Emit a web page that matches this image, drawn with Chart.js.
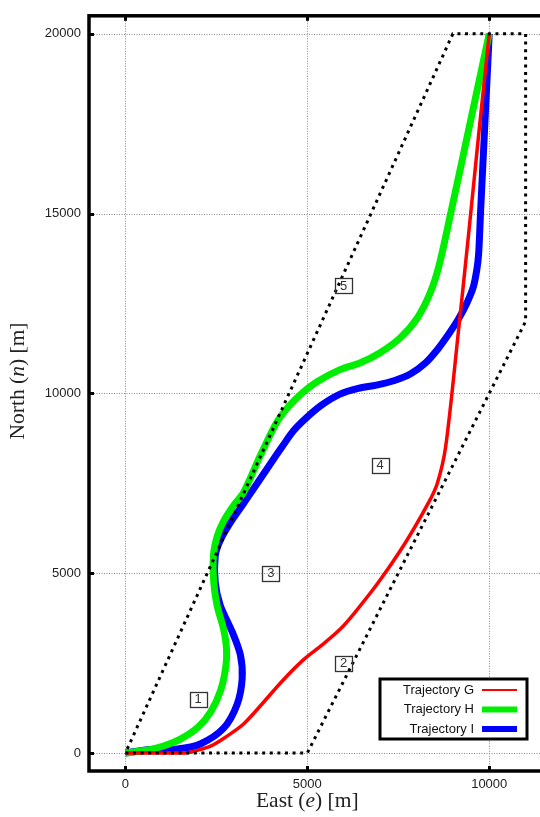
<!DOCTYPE html>
<html>
<head>
<meta charset="utf-8">
<script src="https://cdn.jsdelivr.net/npm/chart.js@4.4.1/dist/chart.umd.min.js"></script>
<style>
  html, body { margin: 0; padding: 0; background: #fff; overflow: hidden; }
  #wrap { width: 540px; height: 817px; overflow: hidden; }
</style>
</head>
<body>
<div id="wrap"><canvas id="traj" width="580" height="817"></canvas></div>
<script>
/* ── DATA ─────────────────────────────────────────────── */
const xTicks = [0, 5000, 10000];
const yTicks = [0, 5000, 10000, 15000, 20000];

// outer dotted boundary of the allowed region
const boundaryEast  = [0, 5000, 11000, 11000, 9000, 0];
const boundaryNorth = [0, 0, 12000, 20000, 20000, 0];

// numbered sub-regions
const areaIds   = ['1', '2', '3', '4', '5'];
const areaEast  = [2000, 6000, 4000, 7000, 6000];
const areaNorth = [1500, 2500, 5000, 8000, 13000];

// Trajectory G (red)
const gEast  = [0, 1000, 1700, 2000, 2340, 2750, 3240, 3700, 4300, 4890, 5400, 5900, 6300, 6950, 7690, 8320, 8570, 8800, 9140, 9430, 9710, 10000];
const gNorth = [0, 0, 10, 80, 190, 440, 800, 1300, 1990, 2590, 3000, 3440, 3900, 4740, 5840, 6940, 7490, 8500, 11600, 14400, 17200, 20000];

// Trajectory H (green)
const hEast  = [0, 700, 1000, 1500, 2000, 2350, 2620, 2760, 2780, 2700, 2520, 2430, 2420, 2530, 2700, 2950, 3250, 3700, 4150, 4500, 4850, 5280, 5900, 6460, 7000, 7550, 8020, 8380, 8620, 8940, 9470, 10000];
const hNorth = [0, 100, 180, 380, 720, 1150, 1750, 2400, 2900, 3440, 4100, 4740, 5500, 6050, 6450, 6850, 7250, 8250, 9180, 9650, 10000, 10330, 10660, 10850, 11130, 11540, 12090, 12800, 13550, 15000, 17500, 20000];

// Trajectory I (blue)
const iEast  = [0, 690, 1430, 2060, 2700, 3070, 3210, 3160, 2940, 2610, 2470, 2470, 2600, 2850, 3200, 3570, 3950, 4330, 4620, 4950, 5400, 5900, 6400, 6900, 7400, 7830, 8250, 8600, 8920, 9150, 9380, 9560, 9660, 9710, 9760, 9880, 10000];
const iNorth = [0, 100, 110, 250, 690, 1350, 2070, 2730, 3360, 4100, 4740, 5480, 5900, 6350, 6870, 7420, 7990, 8550, 8960, 9300, 9680, 9980, 10140, 10230, 10360, 10540, 10850, 11250, 11700, 12060, 12500, 12950, 13450, 13900, 15000, 17500, 20000];

const pts = (xs, ys) => xs.map((x, k) => ({ x, y: ys[k] }));

/* ── DECORATION PLUGIN ───────────────────────────────── */
const frame = {
  id: 'frame',
  beforeDatasetsDraw(chart) {
    const { ctx, chartArea: a, scales: { x, y } } = chart;
    ctx.save();
    ctx.strokeStyle = '#8a8a8a';
    ctx.lineWidth = 1;
    ctx.setLineDash([1, 1.5]);
    xTicks.forEach(v => {
      const px = Math.round(x.getPixelForValue(v)) + 0.5;
      ctx.beginPath(); ctx.moveTo(px, a.top); ctx.lineTo(px, a.bottom); ctx.stroke();
    });
    yTicks.forEach(v => {
      const py = Math.round(y.getPixelForValue(v)) + 0.5;
      ctx.beginPath(); ctx.moveTo(a.left, py); ctx.lineTo(a.right, py); ctx.stroke();
    });
    ctx.restore();
  },
  afterDatasetsDraw(chart) {
    const { ctx, chartArea: a, scales: { x, y } } = chart;
    ctx.save();

    // region number boxes
    ctx.font = '13px "Liberation Sans", Arial, sans-serif';
    ctx.textAlign = 'center';
    ctx.textBaseline = 'middle';
    ctx.lineWidth = 1.3;
    ctx.strokeStyle = '#333';
    ctx.fillStyle = '#333';
    areaIds.forEach((t, k) => {
      const px = x.getPixelForValue(areaEast[k]);
      const py = y.getPixelForValue(areaNorth[k]);
      ctx.strokeRect(Math.round(px - 8.5) + 0.5, Math.round(py - 7.5) + 0.5, 17, 15);
      ctx.fillText(t, px, py + 0.5);
    });

    // thick frame
    ctx.strokeStyle = '#000';
    ctx.lineWidth = 3.5;
    ctx.strokeRect(a.left, a.top, a.right - a.left, a.bottom - a.top);

    // tick squares on the borders
    ctx.fillStyle = '#000';
    xTicks.forEach(v => {
      const px = Math.round(x.getPixelForValue(v));
      ctx.fillRect(px - 1, a.top, 3, 5);
      ctx.fillRect(px - 1, a.bottom - 5, 3, 5);
    });
    yTicks.forEach(v => {
      const py = Math.round(y.getPixelForValue(v));
      ctx.fillRect(a.left, py - 1, 5, 3);
      ctx.fillRect(a.right - 5, py - 1, 5, 3);
    });

    // legend
    const lx = 380, ly = 679, lw = 147, lh = 60;
    ctx.fillStyle = '#fff';
    ctx.fillRect(lx, ly, lw, lh);
    ctx.lineWidth = 3;
    ctx.strokeStyle = '#000';
    ctx.strokeRect(lx, ly, lw, lh);
    ctx.font = '13px "Liberation Sans", Arial, sans-serif';
    ctx.textAlign = 'right';
    ctx.textBaseline = 'middle';
    chart.data.datasets.filter(d => d.label).forEach((d, k) => {
      const ry = ly + 11 + k * 19.5;
      ctx.fillStyle = '#111';
      ctx.fillText(d.label, lx + 94, ry);
      ctx.strokeStyle = d.borderColor;
      ctx.lineWidth = d.borderWidth > 4 ? 6 : 2;
      ctx.beginPath(); ctx.moveTo(lx + 102, ry); ctx.lineTo(lx + 137, ry); ctx.stroke();
    });

    // axis titles with italic symbols
    const titleFont = '21.5px "Liberation Serif", "DejaVu Serif", serif';
    const drawParts = (parts, cx, cy) => {
      let w = 0;
      parts.forEach(p => { ctx.font = p[1] + titleFont; w += ctx.measureText(p[0]).width; });
      let cur = cx - w / 2;
      ctx.textAlign = 'left';
      ctx.textBaseline = 'middle';
      ctx.fillStyle = '#222';
      parts.forEach(p => {
        ctx.font = p[1] + titleFont;
        ctx.fillText(p[0], cur, cy);
        cur += ctx.measureText(p[0]).width;
      });
    };
    drawParts([['East (', ''], ['e', 'italic '], [') [m]', '']], x.getPixelForValue(5000), 801);
    ctx.translate(18, 381);
    ctx.rotate(-Math.PI / 2);
    drawParts([['North (', ''], ['n', 'italic '], [') [m]', '']], 0, 0);

    ctx.restore();
  }
};

/* ── CHART ───────────────────────────────────────────── */
const tickFont = { family: '"Liberation Sans", Arial, sans-serif', size: 13 };

new Chart(document.getElementById('traj'), {
  type: 'scatter',
  data: {
    datasets: [
      {
        data: pts(boundaryEast, boundaryNorth),
        showLine: true, borderColor: '#000', borderWidth: 3,
        borderDash: [3, 4.6], borderCapStyle: 'butt',
        pointRadius: 0, tension: 0
      },
      {
        label: 'Trajectory G',
        data: pts(gEast, gNorth),
        showLine: true, borderColor: '#ff0000', borderWidth: 3.5,
        pointRadius: 0, tension: 0.3
      },
      {
        label: 'Trajectory H',
        data: pts(hEast, hNorth),
        showLine: true, borderColor: '#00ee00', borderWidth: 7,
        pointRadius: 0, tension: 0.3
      },
      {
        label: 'Trajectory I',
        data: pts(iEast, iNorth),
        showLine: true, borderColor: '#0000ff', borderWidth: 7,
        pointRadius: 0, tension: 0.3
      }
    ]
  },
  options: {
    responsive: false,
    animation: false,
    devicePixelRatio: 1,
    layout: { padding: { top: 7, right: 18, left: 0, bottom: 0 } },
    plugins: { legend: { display: false }, tooltip: { enabled: false } },
    scales: {
      x: {
        type: 'linear', position: 'bottom', min: -1000, max: 12000,
        grid: { display: false, drawTicks: false },
        border: { display: false },
        ticks: { font: tickFont, color: '#222', padding: 6, maxRotation: 0, callback: v => String(v) },
        afterBuildTicks: s => { s.ticks = xTicks.map(v => ({ value: v })); },
        afterFit: s => { s.height = 46; }
      },
      y: {
        type: 'linear', position: 'left', min: -500, max: 20500,
        grid: { display: false, drawTicks: false },
        border: { display: false },
        ticks: { font: tickFont, color: '#222', padding: 8, callback: v => String(v) },
        afterBuildTicks: s => { s.ticks = yTicks.map(v => ({ value: v })); },
        afterFit: s => { s.width = 89; }
      }
    }
  },
  plugins: [frame]
});
</script>
</body>
</html>
